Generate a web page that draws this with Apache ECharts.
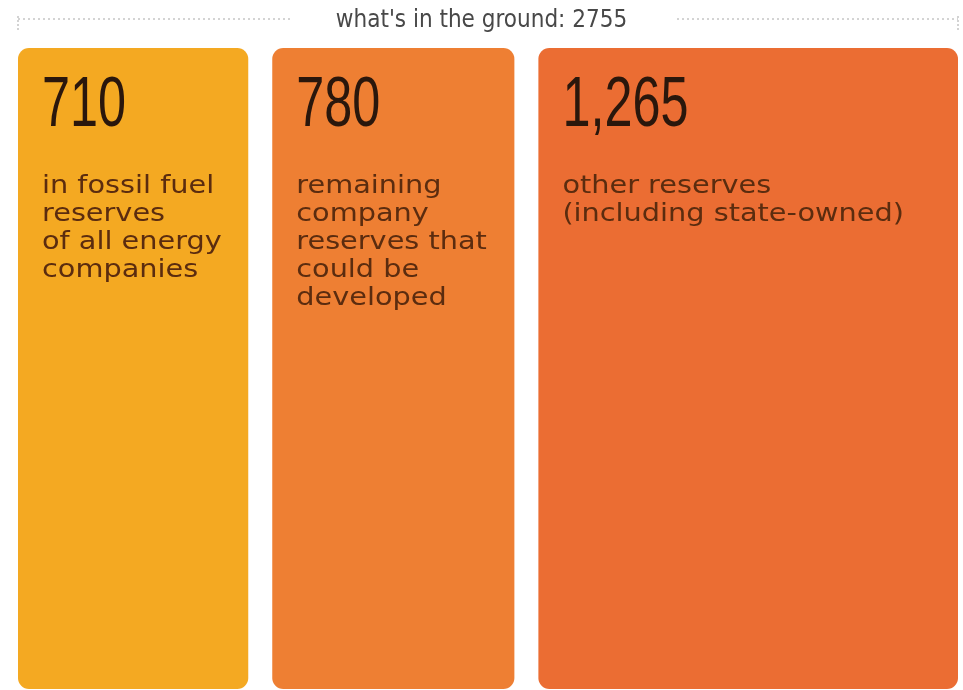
<!DOCTYPE html>
<html>
<head>
<meta charset="utf-8">
<script src="https://cdn.jsdelivr.net/npm/echarts@6/dist/echarts.min.js"></script>
<style>
html,body{margin:0;padding:0;background:#fff;}
#chart{width:963px;height:690px;}
</style>
</head>
<body>
<div id="chart"></div>
<script>
const categories = ['company', 'remaining', 'other'];
const values = [710, 780, 1265];
const valueLabels = ['710', '780', '1,265'];
const descriptions = [
  'in fossil fuel\nreserves\nof all energy\ncompanies',
  'remaining\ncompany\nreserves that\ncould be\ndeveloped',
  'other reserves\n(including state-owned)'
];
const colors = ['#F4A922', '#EE7F33', '#EB6D33'];
const totalLabel = "what's in the ground: 2755";

const total = values.reduce((a, b) => a + b, 0);
let acc = 0;
const data = values.map((v, i) => {
  const s = acc; acc += v;
  return [s, acc, i];
});

const GAP = 24;
const chart = echarts.init(document.getElementById('chart'));
chart.setOption({
  animation: false,
  backgroundColor: '#ffffff',
  title: {
    text: totalLabel,
    left: 'center',
    top: 4,
    textStyle: {
      fontFamily: "'DejaVu Sans Condensed', sans-serif",
      fontWeight: 'normal',
      fontSize: 24,
      color: '#484848'
    }
  },
  graphic: [
    { type: 'line', shape: { x1: 18, y1: 19, x2: 292, y2: 19 }, style: { stroke: '#a8a8a8', lineWidth: 1, lineDash: [2, 3] } },
    { type: 'line', shape: { x1: 18, y1: 16, x2: 18, y2: 30 }, style: { stroke: '#a8a8a8', lineWidth: 1, lineDash: [2, 2] } },
    { type: 'line', shape: { x1: 677, y1: 19, x2: 958, y2: 19 }, style: { stroke: '#a8a8a8', lineWidth: 1, lineDash: [2, 3] } },
    { type: 'line', shape: { x1: 958, y1: 16, x2: 958, y2: 30 }, style: { stroke: '#a8a8a8', lineWidth: 1, lineDash: [2, 2] } }
  ],
  grid: { left: 18, right: 5, top: 48, bottom: 1 },
  xAxis: { type: 'value', min: 0, max: total, show: false },
  yAxis: { type: 'value', min: 0, max: 1, show: false },
  series: [{
    type: 'custom',
    data: data,
    renderItem: function (params, api) {
      const i = api.value(2);
      const p0 = api.coord([api.value(0), 1]);
      const p1 = api.coord([api.value(1), 0]);
      const x0 = p0[0] + (i > 0 ? GAP / 2 : 0);
      const x1 = p1[0] - (i < values.length - 1 ? GAP / 2 : 0);
      return {
        type: 'group',
        children: [
          {
            type: 'rect',
            shape: { x: x0, y: p0[1], width: x1 - x0, height: p1[1] - p0[1], r: 11 },
            style: { fill: colors[i] }
          },
          {
            type: 'text',
            x: x0 + 24, y: p0[1] + 59,
            scaleX: 0.72,
            style: {
              text: valueLabels[i],
              fontFamily: "'Liberation Sans', Arial, sans-serif",
              fontSize: 70,
              fill: '#2a170c',
              verticalAlign: 'middle'
            }
          },
          {
            type: 'text',
            x: x0 + 24, y: p0[1] + 124,
            scaleX: 1.15,
            style: {
              text: descriptions[i],
              fontFamily: "'DejaVu Sans', sans-serif",
              fontSize: 25,
              lineHeight: 28,
              fill: '#5b2c0f',
              verticalAlign: 'top'
            }
          }
        ]
      };
    }
  }]
});
</script>
</body>
</html>
